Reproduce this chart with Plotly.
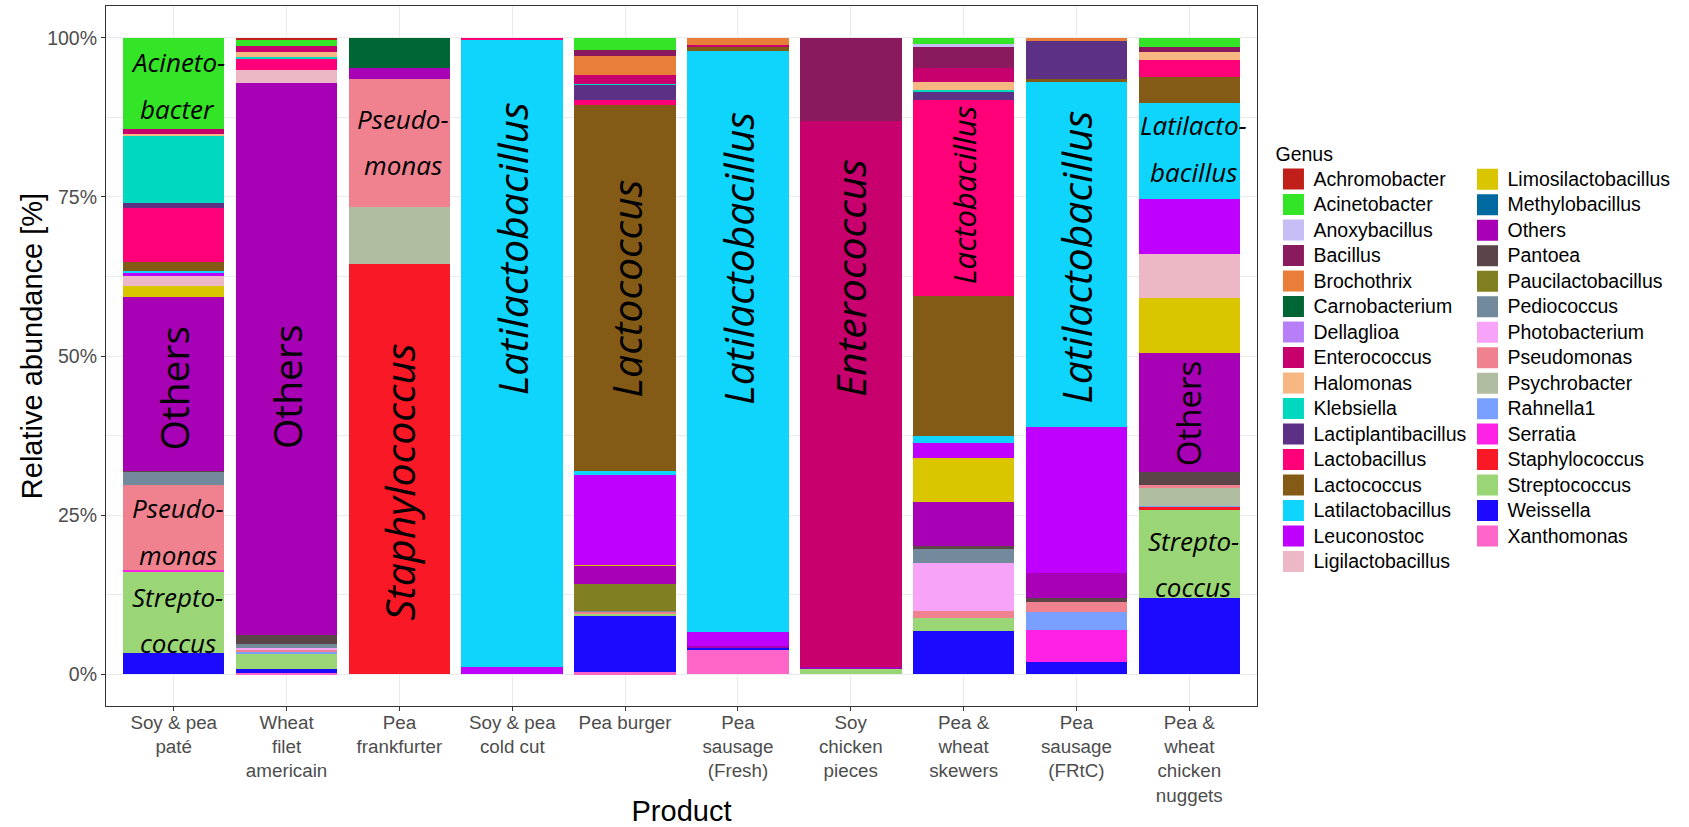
import plotly.graph_objects as go

# ---------------- data ----------------
products = ["Soy & pea paté", "Wheat filet americain", "Pea frankfurter", "Soy & pea cold cut",
            "Pea burger", "Pea sausage (Fresh)", "Soy chicken pieces", "Pea & wheat skewers",
            "Pea sausage (FRtC)", "Pea & wheat chicken nuggets"]
product_ticks = ["Soy & pea<br>paté", "Wheat<br>filet<br>americain", "Pea<br>frankfurter",
                 "Soy & pea<br>cold cut", "Pea burger", "Pea<br>sausage<br>(Fresh)",
                 "Soy<br>chicken<br>pieces", "Pea &<br>wheat<br>skewers", "Pea<br>sausage<br>(FRtC)",
                 "Pea &<br>wheat<br>chicken<br>nuggets"]

genera = ["Achromobacter", "Acinetobacter", "Anoxybacillus", "Bacillus", "Brochothrix",
          "Carnobacterium", "Dellaglioa", "Enterococcus", "Halomonas", "Klebsiella",
          "Lactiplantibacillus", "Lactobacillus", "Lactococcus", "Latilactobacillus", "Leuconostoc",
          "Ligilactobacillus", "Limosilactobacillus", "Methylobacillus", "Others", "Pantoea",
          "Paucilactobacillus", "Pediococcus", "Photobacterium", "Pseudomonas", "Psychrobacter",
          "Rahnella1", "Serratia", "Staphylococcus", "Streptococcus", "Weissella",
          "Xanthomonas"]

genus_colors = ["#C01F1A", "#33E526", "#C7BEF5", "#8A1A5E", "#E87E38",
                "#006633", "#B87EF7", "#C8006E", "#F7B782", "#00D9C0",
                "#5C3085", "#FF0078", "#845A17", "#0FD5FC", "#C000FF",
                "#EDB8C6", "#D9C500", "#006AA0", "#A800B4", "#5C4548",
                "#808020", "#728A9C", "#F7A3F7", "#F08290", "#B1BDA0",
                "#7AA0FF", "#FF22E6", "#F81826", "#9AD676", "#1C0AFF",
                "#FF66C8"]

# relative abundance (%) per product, in the order of `genera`
soy_pea_pate = [0, 14.4, 0, 0, 0,
                0, 0, 0.7, 0.2, 10.7,
                0.7, 8.5, 1.4, 0.4, 0.5,
                1.5, 1.8, 0, 27.2, 0.2,
                0, 2.1, 0, 13.3, 0,
                0, 0.2, 0, 12.9, 3.3,
                0]
wheat_filet_americain = [0.2, 1.1, 0, 0, 0,
                         0, 0, 0.9, 0.8, 0.2,
                         0, 1.8, 0, 0, 0,
                         2.1, 0, 0, 86.8, 1.3,
                         0, 0.7, 0.2, 0.3, 0,
                         0.3, 0, 0, 2.5, 0.6,
                         0.2]
pea_frankfurter = [0, 0, 0, 0, 0,
                   4.7, 0, 0, 0, 0,
                   0, 0, 0, 0, 0,
                   0, 0, 0, 1.7, 0,
                   0, 0, 0, 20.2, 8.9,
                   0, 0, 64.5, 0, 0,
                   0]
soy_pea_cold_cut = [0, 0, 0, 0, 0,
                    0, 0, 0, 0, 0,
                    0, 0.4, 0, 98.5, 1.1,
                    0, 0, 0, 0, 0,
                    0, 0, 0, 0, 0,
                    0, 0, 0, 0, 0,
                    0]
pea_burger = [0, 1.9, 0, 0.9, 3.1,
              0, 0, 1.4, 0, 0.1,
              2.4, 0.7, 57.5, 0.7, 14.1,
              0, 0.2, 0, 2.8, 0,
              4.2, 0.1, 0.1, 0.3, 0,
              0, 0, 0, 0.3, 8.9,
              0.3]
pea_sausage_fresh = [0, 0, 0, 0, 1.2,
                     0, 0, 0.2, 0, 0,
                     0, 0, 0.7, 91.3, 2.1,
                     0, 0, 0, 0.4, 0,
                     0, 0, 0, 0, 0,
                     0, 0, 0, 0, 0.3,
                     3.8]
soy_chicken_pieces = [0, 0, 0, 13.0, 0,
                      0, 0, 85.8, 0, 0,
                      0, 0, 0, 0, 0,
                      0, 0, 0, 0.4, 0,
                      0, 0, 0, 0, 0,
                      0, 0, 0, 0.8, 0,
                      0]
pea_wheat_skewers = [0, 1.0, 0.5, 3.3, 0,
                     0, 0, 2.1, 1.3, 0.2,
                     1.3, 30.8, 22.1, 1.1, 2.3,
                     0, 6.9, 0, 7.0, 0.4,
                     0, 2.2, 7.6, 1.1, 0,
                     0, 0, 0, 2.0, 6.8,
                     0]
pea_sausage_frtc = [0, 0, 0, 0, 0.5,
                    0, 0, 0, 0, 0,
                    6.0, 0, 0.3, 54.4, 22.9,
                    0, 0, 0, 3.9, 0.7,
                    0, 0, 0, 1.5, 0,
                    2.9, 5.0, 0, 0, 1.9,
                    0]
pea_wheat_nuggets = [0, 1.5, 0, 0.7, 0,
                     0, 0, 0, 1.3, 0,
                     0, 2.6, 4.2, 15.0, 8.7,
                     6.9, 8.6, 0, 18.7, 2.0,
                     0, 0, 0, 0.5, 2.8,
                     0.2, 0, 0.5, 13.8, 12.0,
                     0]

abundance = [soy_pea_pate, wheat_filet_americain, pea_frankfurter, soy_pea_cold_cut,
             pea_burger, pea_sausage_fresh, soy_chicken_pieces, pea_wheat_skewers,
             pea_sausage_frtc, pea_wheat_nuggets]

# in-bar genus labels: (product index, text, centre (%))
label_product = [0, 0, 0, 0, 1, 2, 2, 3, 4, 5, 6, 7, 8, 9, 9, 9]
label_text = ["Acineto-|bacter", "Others", "Pseudo-|monas", "Strepto-|coccus",
              "Others", "Pseudo-|monas", "Staphylococcus", "Latilactobacillus",
              "Lactococcus", "Latilactobacillus", "Enterococcus", "Lactobacillus",
              "Latilactobacillus", "Latilacto-|bacillus", "Others", "Strepto-|coccus"]
label_y = [92.5, 45.0, 22.4, 8.5, 45.2, 83.6, 30.2, 66.8, 60.6, 65.4, 62.2, 75.2,
           65.5, 82.6, 40.9, 17.3]

# ---------------- styling ----------------
AXIS_FONT = "Liberation Sans, Arial, sans-serif"
LABEL_FONT = "Open Sans, DejaVu Sans, sans-serif"

fig = go.Figure()

# stacked bars: ggplot stacks first level on top -> add in reverse order
for gi in reversed(range(len(genera))):
    fig.add_trace(go.Bar(
        x=products,
        y=[abundance[p][gi] for p in range(len(products))],
        name=genera[gi],
        marker=dict(color=genus_colors[gi], line=dict(width=0)),
        showlegend=False,
        hovertemplate="%{x}<br>" + genera[gi] + ": %{y}%<extra></extra>",
    ))

# legend entries (two columns, like the ggplot guide)
n_first = 16
for gi, g in enumerate(genera):
    fig.add_trace(go.Scatter(
        x=[None], y=[None], mode="markers",
        name='<span style="font-size:19.5px">' + g + "</span>",
        marker=dict(symbol="square", size=16, color=genus_colors[gi],
                    line=dict(width=5, color=genus_colors[gi])),
        legend="legend" if gi < n_first else "legend2",
        hoverinfo="skip",
    ))

# in-bar text labels
line_gap = 3.65
for pi, txt, yc in zip(label_product, label_text, label_y):
    if "|" in txt:
        l1, l2 = txt.split("|")
        for t, yy in ((l1, yc + line_gap), (l2, yc - line_gap)):
            fig.add_annotation(x=products[pi], y=yy, xref="x", yref="y",
                               text="<i>" + t + "</i>", showarrow=False, xshift=4,
                               font=dict(family=LABEL_FONT, size=26, color="black"))
    else:
        if txt == "Others":
            size = 33 if pi == 9 else 39
        elif txt == "Lactobacillus":
            size = 31
        else:
            size = 41
        t = txt if txt == "Others" else "<i>" + txt + "</i>"
        fig.add_annotation(x=products[pi], y=yc, xref="x", yref="y",
                           text=t, showarrow=False, textangle=-90,
                           font=dict(family=LABEL_FONT, size=size, color="black"))

# y-axis title (placed like ggplot's, centred on the panel)
fig.add_annotation(text="Relative abundance [%]", xref="paper", yref="paper",
                   x=-0.0643, y=0.514, xanchor="center", yanchor="middle",
                   textangle=-90, showarrow=False,
                   font=dict(size=29, family=AXIS_FONT, color="black"))

fig.update_layout(
    barmode="stack",
    bargap=0.1,
    width=1689, height=827,
    margin=dict(l=106, r=432, t=6, b=121),
    paper_bgcolor="white",
    plot_bgcolor="white",
    font=dict(family=AXIS_FONT, color="black"),
    legend=dict(
        title=dict(text="Genus", font=dict(size=19.5, family=AXIS_FONT, color="black")),
        font=dict(size=17.3, family=AXIS_FONT, color="black"),
        x=1.0143, xanchor="left", y=0.8143, yanchor="top",
        bgcolor="rgba(0,0,0,0)", traceorder="normal",
    ),
    legend2=dict(
        font=dict(size=17.3, family=AXIS_FONT, color="black"),
        x=1.1829, xanchor="left", y=0.7779, yanchor="top",
        bgcolor="rgba(0,0,0,0)", traceorder="normal",
    ),
)

fig.update_xaxes(
    type="category",
    range=[-0.6, len(products) - 0.4],
    tickmode="array", tickvals=products, ticktext=product_ticks,
    tickfont=dict(size=18.8, color="#4D4D4D", family=AXIS_FONT),
    ticks="outside", ticklen=4, tickcolor="#333333", tickwidth=1,
    ticklabelstandoff=-5,
    showgrid=True, gridcolor="#EBEBEB", gridwidth=1.1,
    showline=True, linecolor="#333333", linewidth=1.1, mirror=True,
    title=dict(text="Product", font=dict(size=29, family=AXIS_FONT, color="black"), standoff=15),
    automargin=False,
)
fig.update_yaxes(
    range=[-5, 105],
    tickmode="array", tickvals=[0, 25, 50, 75, 100],
    ticktext=["0%", "25%", "50%", "75%", "100%"],
    tickfont=dict(size=19.5, color="#4D4D4D", family=AXIS_FONT),
    ticks="outside", ticklen=4, tickcolor="#333333", tickwidth=1,
    showgrid=True, gridcolor="#EBEBEB", gridwidth=1.1,
    minor=dict(tickvals=[12.5, 37.5, 62.5, 87.5], showgrid=True,
               gridcolor="#EBEBEB", gridwidth=0.6, ticks=""),
    zeroline=False,
    showline=True, linecolor="#333333", linewidth=1.1, mirror=True,
    automargin=False,
)

fig.write_html("out.html")
